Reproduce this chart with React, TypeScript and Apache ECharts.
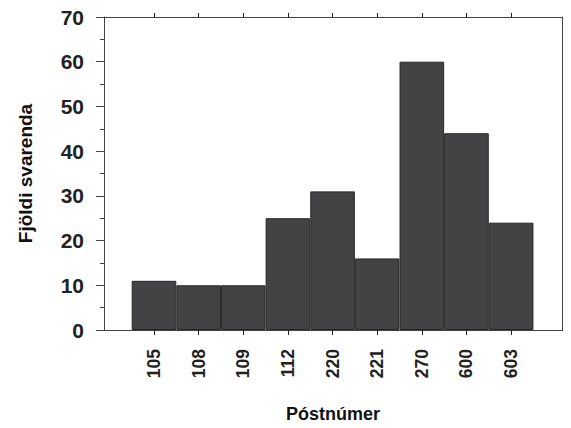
import React, { useEffect, useRef } from "react";
import * as echarts from "echarts";

const categories = ["105", "108", "109", "112", "220", "221", "270", "600", "603"];
const counts = [11, 10, 10, 25, 31, 16, 60, 44, 24];
const yTicks = [0, 10, 20, 30, 40, 50, 60, 70];

const FONT = "'Liberation Sans', Arial, Helvetica, sans-serif";
const AXIS_COLOR = "#444";

export default function App() {
  const ref = useRef<HTMLDivElement>(null);
  useEffect(() => {
    if (!ref.current) return;
    const chart = echarts.init(ref.current, undefined, { renderer: "svg" });
    const idx = categories.map((_, i) => i);
    const xMin = -1.12;
    const xMax = 9.14;
    const baseX = {
      type: "value" as const,
      min: xMin,
      max: xMax,
      splitLine: { show: false },
      axisLine: { show: true, onZero: false, lineStyle: { color: AXIS_COLOR, width: 1 } },
    };
    chart.setOption({
      animation: false,
      backgroundColor: "#fff",
      grid: { left: 104, right: 9, top: 17, bottom: 97, containLabel: false },
      xAxis: [
        {
          ...baseX,
          position: "bottom",
          name: "Póstnúmer",
          nameLocation: "middle",
          nameGap: 75,
          nameTextStyle: { fontFamily: FONT, fontSize: 18, fontWeight: "bold", color: "#111" },
          axisTick: { show: true, customValues: idx, length: 5, lineStyle: { color: "#222" } },
          axisLabel: {
            show: true,
            customValues: idx,
            rotate: 90,
            margin: 19,
            fontFamily: FONT,
            fontSize: 17.5,
            fontWeight: "bold",
            color: "#222",
            formatter: (v: number) => categories[Math.round(v)] ?? "",
          },
        },
        {
          ...baseX,
          position: "top",
          axisTick: { show: true, customValues: idx, length: 4, lineStyle: { color: "#222" } },
          axisLabel: { show: false },
        },
      ],
      yAxis: [
        {
          type: "value",
          position: "left",
          min: yTicks[0],
          max: yTicks[yTicks.length - 1],
          interval: 10,
          name: "Fjöldi svarenda",
          nameLocation: "middle",
          nameGap: 69,
          nameTextStyle: { fontFamily: FONT, fontSize: 19, fontWeight: "bold", color: "#111" },
          splitLine: { show: false },
          axisLine: { show: true, onZero: false, lineStyle: { color: AXIS_COLOR, width: 1 } },
          axisTick: { show: true, length: 8, lineStyle: { color: AXIS_COLOR } },
          minorTick: { show: true, splitNumber: 2, length: 4, lineStyle: { color: AXIS_COLOR } },
          axisLabel: {
            margin: 20,
            fontFamily: FONT,
            fontSize: 21,
            fontWeight: "bold",
            color: "#222",
          },
        },
        {
          type: "value",
          position: "right",
          min: yTicks[0],
          max: yTicks[yTicks.length - 1],
          interval: 10,
          splitLine: { show: false },
          axisLine: { show: true, onZero: false, lineStyle: { color: AXIS_COLOR, width: 1 } },
          axisTick: { show: true, length: 8, lineStyle: { color: AXIS_COLOR } },
          minorTick: { show: true, splitNumber: 2, length: 4, lineStyle: { color: AXIS_COLOR } },
          axisLabel: { show: false },
        },
      ],
      series: [
        {
          type: "bar",
          xAxisIndex: 0,
          yAxisIndex: 0,
          barWidth: 44.6,
          data: counts.map((v, i) => [i, v]),
          itemStyle: { color: "#434345", borderColor: "#262626", borderWidth: 1 },
        },
      ],
    });
    return () => chart.dispose();
  }, []);
  return <div ref={ref} style={{ width: 571, height: 428, margin: -8 }} />;
}
